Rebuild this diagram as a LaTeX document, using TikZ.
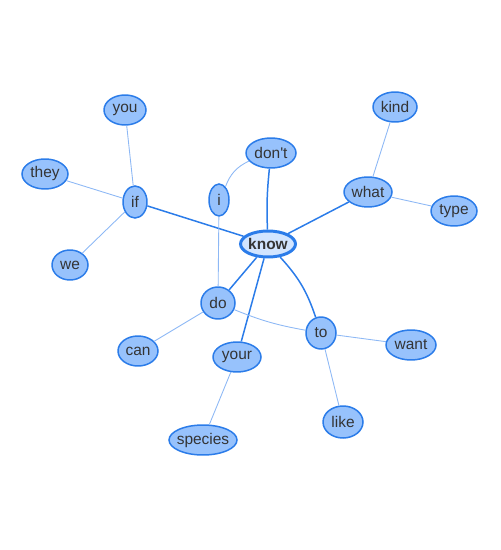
\documentclass[tikz,border=0pt]{standalone}
\usepackage{fontspec}
\setmainfont{Liberation Sans}
\usetikzlibrary{shapes.geometric}
\definecolor{wordfill}{HTML}{97C2FC}
\definecolor{wordline}{HTML}{2B7CE9}
\definecolor{hubfill}{HTML}{D2E5FF}
\definecolor{weakline}{HTML}{8DB8F5}
\definecolor{wordtext}{HTML}{343434}

\begin{document}
\begin{tikzpicture}[
  x=0.02cm, y=-0.02cm,
  word/.style={ellipse, draw=wordline, fill=wordfill, line width=0.85pt,
               inner ysep=0pt, inner xsep=-0.5mm, minimum height=6mm,
               text=wordtext, font=\fontsize{8.8}{10}\selectfont},
  hub/.style={word, fill=hubfill, line width=1.7pt,
              font=\fontsize{8.8}{10}\selectfont\bfseries},
  strong/.style={draw=wordline, line width=0.85pt},
  weak/.style={draw=weakline, line width=0.5pt}
]
\useasboundingbox (0,0) rectangle (500,550);

% hub and first ring
\node[hub, minimum width=1.1cm, minimum height=5.2mm] (know) at (268,244) {know};
\node[word, minimum width=1.0cm] (dont) at (271,153) {don\textquotesingle t};
\node[word, minimum width=0.4cm, minimum height=6.4mm] (i) at (219,200) {i};
\node[word, minimum width=0.48cm, minimum height=6.4mm] (if) at (135,202) {if};
\node[word, minimum width=0.96cm] (what) at (368,192) {what};
\node[word, minimum width=0.68cm, minimum height=6.4mm] (do) at (218,303) {do};
\node[word, minimum width=0.96cm] (your) at (237,357) {your};
\node[word, minimum width=0.6cm, minimum height=6.4mm] (to) at (321,333) {to};

% outer words
\node[word, minimum width=0.84cm] (you) at (125,110) {you};
\node[word, minimum width=0.92cm] (they) at (45,174) {they};
\node[word, minimum width=0.72cm] (we) at (70,265) {we};
\node[word, minimum width=0.88cm] (kind) at (395,107) {kind};
\node[word, minimum width=0.92cm] (type) at (454,211) {type};
\node[word, minimum width=0.8cm] (can) at (138,351) {can};
\node[word, minimum width=1.36cm] (species) at (203,440) {species};
\node[word, minimum width=1.0cm] (want) at (411,345) {want};
\node[word, minimum width=0.8cm, minimum height=6.4mm] (like) at (343,422) {like};

% links from the hub
\draw[strong] (know) -- (if);
\draw[strong] (know) to[bend left=4] (dont);
\draw[strong] (know) -- (what);
\draw[strong] (know) -- (do);
\draw[strong] (know) -- (your);
\draw[strong] (know) to[bend left=12] (to);

% other links
\draw[weak] (if) -- (you);
\draw[weak] (if) -- (they);
\draw[weak] (if) -- (we);
\draw[weak] (dont) to[bend right=22] (i);
\draw[weak] (i) -- (do);
\draw[weak] (what) -- (kind);
\draw[weak] (what) -- (type);
\draw[weak] (do) -- (can);
\draw[weak] (do) to[bend right=6] (to);
\draw[weak] (your) -- (species);
\draw[weak] (to) -- (want);
\draw[weak] (to) -- (like);
\end{tikzpicture}
\end{document}
